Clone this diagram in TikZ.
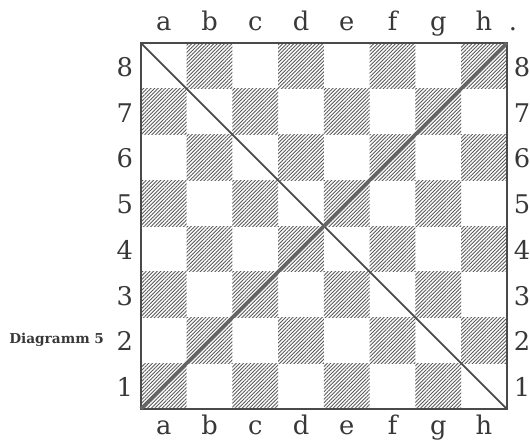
\documentclass[tikz,border=0pt]{standalone}
\usepackage{fontspec}
\setmainfont{DejaVu Serif}
\usepackage{tikz}
\usetikzlibrary{patterns.meta,calc,positioning}
\definecolor{brdgray}{HTML}{4A4A4A}
\definecolor{hatchgray}{HTML}{5A5A5A}

\begin{document}
\begin{tikzpicture}[
    x=1cm, y=1cm,
    darksq/.style={pattern={Lines[angle=45, distance=1.6pt, line width=0.55pt]},
                   pattern color=hatchgray},
    coordlbl/.style={font=\fontsize{16}{16}\selectfont, text=black!78, inner sep=0pt, anchor=base},
    frame/.style={draw=brdgray, line width=1.6pt},
    diagline/.style={draw=brdgray, line width=#1},
    diagline/.default=1.1pt
]
\useasboundingbox (-3.08,-0.743) rectangle (8.505,8.94);

% dark squares
\foreach \f in {0,...,7}
  \foreach \r in {0,...,7} {
    \pgfmathparse{int(mod(\f+\r,2))}
    \ifnum\pgfmathresult=0
      \fill[darksq] (\f,\r) rectangle ++(1,1);
    \fi
  }

% corners
\coordinate (a1) at (0,0);
\coordinate (h1) at (8,0);
\coordinate (a8) at (0,8);
\coordinate (h8) at (8,8);

\draw[frame] (a1) rectangle (h8);
\draw[diagline] (a8) -- (h1);
\draw[diagline=2.2pt, draw=brdgray!85] (a1) -- (h8);

% files and ranks
\foreach \l [count=\i from 0] in {a,b,c,d,e,f,g,h} {
  \node[coordlbl] (top-\l) at (\i+0.5,8.28) {\l};
  \node[coordlbl] (bot-\l) at (\i+0.5,-0.55) {\l};
}
\node[coordlbl] (dot) at (8.13,8.28) {.};
\foreach \n in {1,...,8} {
  \node[coordlbl] (lft-\n) at (-0.35,\n-0.73) {\n};
  \node[coordlbl] (rgt-\n) at (8.33,\n-0.73) {\n};
}

\node[font=\fontsize{8.5}{9}\selectfont\bfseries, text=black!78, inner sep=0pt,
      anchor=base east] (caption) at (-0.80,1.43) {Diagramm 5};

\end{tikzpicture}
\end{document}
